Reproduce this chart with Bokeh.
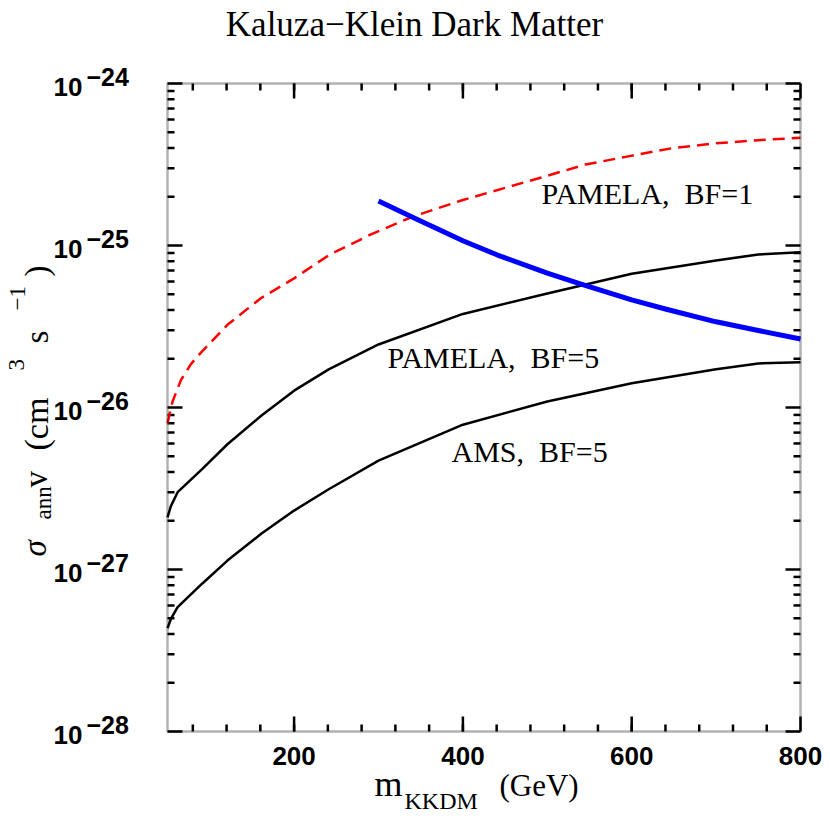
import math
from bokeh.plotting import figure
from bokeh.models import Label, Range1d, BoxAnnotation
from bokeh.embed import file_html
from bokeh.resources import INLINE

# ---------------- data ----------------
mass_bf1 = [50, 56, 66, 78, 91, 121, 161, 200, 241, 291, 341, 400, 493, 545, 596, 647, 699, 750, 800]
sigma_bf1 = [8.0e-27, 1.09e-26, 1.48e-26, 1.86e-26, 2.22e-26, 3.24e-26, 4.74e-26, 6.27e-26, 8.71e-26,
             1.17e-25, 1.51e-25, 1.91e-25, 2.63e-25, 3.16e-25, 3.55e-25, 3.98e-25, 4.27e-25, 4.47e-25, 4.62e-25]

mass_pamela5 = [50, 54, 62, 91, 121, 161, 200, 241, 300, 400, 500, 600, 700, 750, 800]
sigma_pamela5 = [2.10e-27, 2.46e-27, 3.00e-27, 4.16e-27, 5.93e-27, 8.89e-27, 1.27e-26, 1.72e-26,
                 2.45e-26, 3.78e-26, 5.05e-26, 6.70e-26, 8.07e-26, 8.81e-26, 9.08e-26]

mass_ams5 = [50, 54, 62, 91, 121, 161, 200, 241, 300, 400, 500, 600, 700, 750, 800]
sigma_ams5 = [4.34e-28, 4.95e-28, 5.85e-28, 8.17e-28, 1.135e-27, 1.66e-27, 2.31e-27, 3.13e-27,
              4.70e-27, 7.83e-27, 1.09e-26, 1.41e-26, 1.72e-26, 1.87e-26, 1.905e-26]

mass_kk = [300, 341, 400, 441, 500, 541, 600, 641, 700, 750, 800]
sigma_kk = [1.88e-25, 1.49e-25, 1.07e-25, 8.73e-26, 6.76e-26, 5.75e-26, 4.62e-26, 4.04e-26,
            3.38e-26, 2.99e-26, 2.65e-26]

x_major = [200, 400, 600, 800]
x_minor = list(range(80, 800, 40))
y_major = [1e-28, 1e-27, 1e-26, 1e-25, 1e-24]
y_minor = [k * 10.0 ** e for e in range(-28, -24) for k in range(2, 10)]

curve_labels = ["PAMELA,\u2002BF=1", "PAMELA,\u2002BF=5", "AMS,\u2002BF=5"]
title_text = "Kaluza\u2212Klein Dark Matter"

# ---------------- geometry ----------------
X0, X1, Y0, Y1 = 50, 800, 1e-28, 1e-24
FL, FR, FT, FB = 167, 800, 83, 731  # plot box edges in page pixels
W = H = 822
DX = (X1 - X0) / (FR - FL)                              # data units per pixel (x)
DL = (math.log10(Y1) - math.log10(Y0)) / (FB - FT)      # decades per pixel (y)


def px2x(px):
    return X0 + (px - FL) * DX


def py2y(py):
    return 10 ** (math.log10(Y1) - (py - FT) * DL)


# the Bokeh frame covers the whole canvas; the axes box is drawn by hand so that
# all texts around it stay inside the drawing area
p = figure(width=W, height=H, x_range=Range1d(px2x(0), px2x(W)), y_range=Range1d(py2y(H), py2y(0)),
           y_axis_type="log", output_backend="svg", toolbar_location=None,
           x_axis_location=None, y_axis_location=None,
           min_border=0, min_border_left=0, min_border_right=0, min_border_top=0, min_border_bottom=0)
p.title.visible = False
p.xgrid.visible = False
p.ygrid.visible = False
p.outline_line_color = None
p.background_fill_color = "white"
p.border_fill_color = "white"

# ticks as screen-length rays from the box edges
tick_kw = dict(line_color="black", line_width=2.5, length_units="screen")
p.ray(x=[X0] * len(y_major), y=y_major, length=15, angle=0, **tick_kw)
p.ray(x=[X0] * len(y_minor), y=y_minor, length=7, angle=0, **tick_kw)
p.ray(x=[X1] * len(y_major), y=y_major, length=15, angle=math.pi, **tick_kw)
p.ray(x=[X1] * len(y_minor), y=y_minor, length=7, angle=math.pi, **tick_kw)
p.ray(x=x_major, y=[Y1] * len(x_major), length=15, angle=-math.pi / 2, **tick_kw)
p.ray(x=x_minor, y=[Y1] * len(x_minor), length=7, angle=-math.pi / 2, **tick_kw)
p.ray(x=x_major, y=[Y0] * len(x_major), length=15, angle=math.pi / 2, **tick_kw)
p.ray(x=x_minor, y=[Y0] * len(x_minor), length=7, angle=math.pi / 2, **tick_kw)

# ---------------- curves ----------------
p.line(mass_bf1, sigma_bf1, line_color="#ff0000", line_width=2.5, line_dash="12 7", line_join="round")
p.line(mass_pamela5, sigma_pamela5, line_color="black", line_width=2.5, line_join="round")
p.line(mass_ams5, sigma_ams5, line_color="black", line_width=2.5, line_join="round")
p.line(mass_kk, sigma_kk, line_color="#0000ff", line_width=5, line_join="round")

# axes box
p.add_layout(BoxAnnotation(left=X0, right=X1, bottom=Y0, top=Y1, fill_alpha=0,
                           line_color="black", line_width=2.5))


def add_text(text, px, py, size, font="Liberation Serif", align="left", baseline="middle",
             style="normal", angle=0.0):
    p.add_layout(Label(x=px2x(px), y=py2y(py), text=text, text_font=font, text_font_size=f"{size}px",
                       text_font_style=style, text_align=align, text_baseline=baseline,
                       text_color="black", angle=angle))


# curve labels
add_text(curve_labels[0], 541, 193, 30)
add_text(curve_labels[1], 387, 357, 30)
add_text(curve_labels[2], 451, 451, 30)

# y tick labels 10^-n
for v in y_major:
    e = int(round(math.log10(v)))
    ty = FT + (math.log10(Y1) - e) / DL
    add_text("10", 82, ty + 3, 26, font="Liberation Sans", align="right", style="bold")
    add_text("\u2212" + str(abs(e)), 86, ty - 7, 25, font="Liberation Sans", style="bold")

# x tick labels
for v in x_major:
    add_text(str(v), FL + (v - X0) / DX, 746, 26, font="Liberation Sans", align="center",
             baseline="top", style="bold")

# title
add_text(title_text, 414, 24, 35, align="center")

# x axis title: m_KKDM (GeV)
add_text("m", 374, 783, 36)
add_text("KKDM", 404, 800, 24)
add_text("(GeV)", 499, 785, 31)

# y axis title: sigma_ann v (cm^3 s^-1), rotated (reads bottom to top)
R = math.pi / 2
add_text("\u03c3", 34, 556, 33, style="italic", angle=R)
add_text("ann", 43, 519, 23, angle=R)
add_text("v", 35, 487, 33, angle=R)
add_text("(cm", 36, 450, 34, angle=R)
add_text("3", 16, 370, 23, angle=R)
add_text("s", 36, 343, 33, angle=R)
add_text("\u22121", 17, 310, 23, angle=R)
add_text(")", 36, 276, 33, angle=R)

open("out.html", "w").write(file_html(p, INLINE))
